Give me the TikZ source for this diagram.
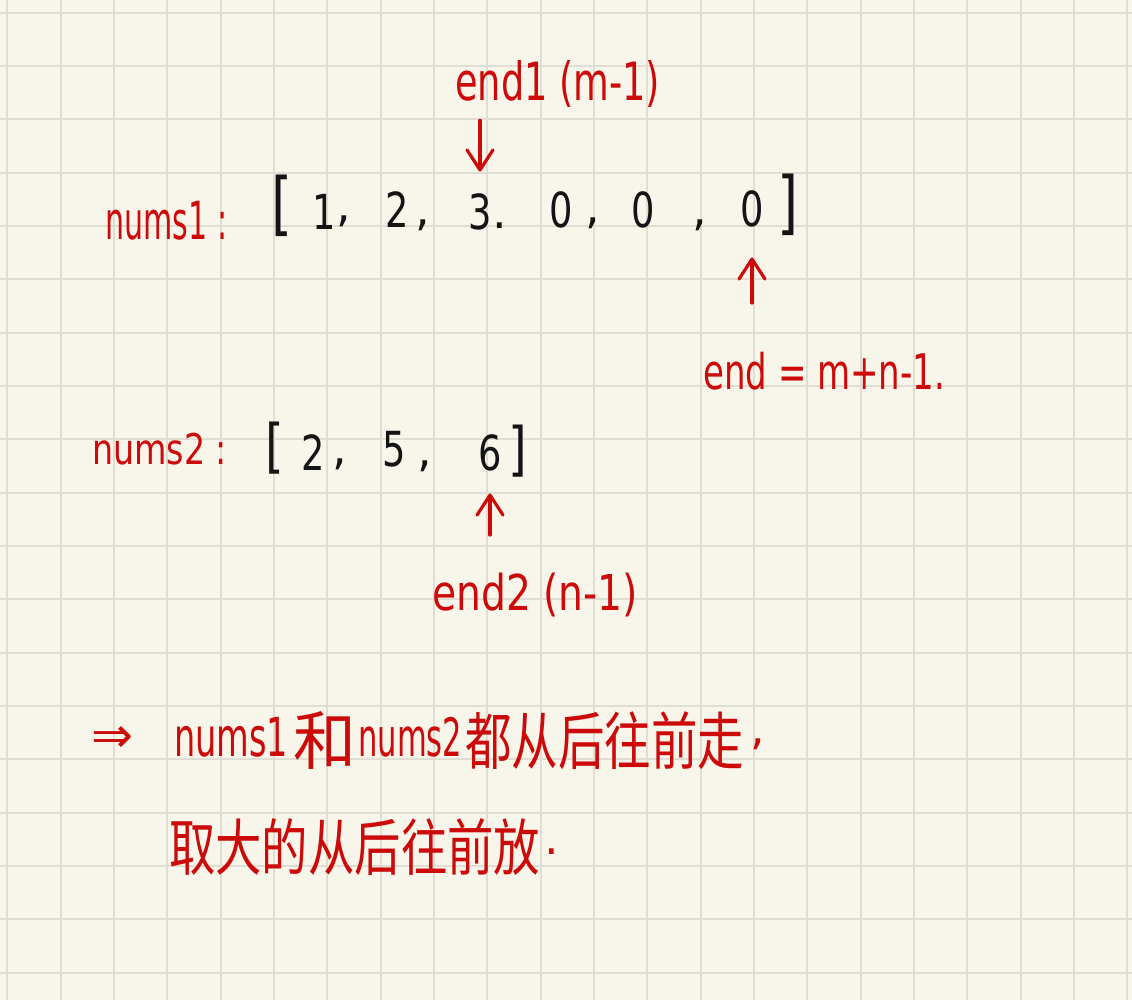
\documentclass[tikz,border=0pt]{standalone}
\usepackage{fontspec}
\usepackage{graphicx}
\usetikzlibrary{arrows.meta}
\newfontfamily\cjk{Noto Sans CJK SC}
\newfontfamily\dv{DejaVu Sans}
\newcommand{\dgt}[1]{\scalebox{0.8}[1.05]{#1}}
\newcommand{\tall}[1]{\scalebox{1}[1.28]{#1}}
\definecolor{paper}{HTML}{F8F6EB}
\definecolor{gridc}{HTML}{E0DDD2}
\definecolor{pen}{HTML}{CC0A0A}
\definecolor{ink}{HTML}{141414}
\begin{document}
\begin{tikzpicture}[x=1pt,y=-1pt,
  lbl/.style={inner sep=0pt, anchor=north west, text=pen, font=\cjk},
  lat/.style={inner sep=0pt, anchor=north west, text=pen, font=\dv},
  dig/.style={inner sep=0pt, text=ink, font=\dv\fontsize{46}{46}\selectfont},
  brk/.style={inner sep=0pt, text=ink, font=\dv\fontsize{54}{54}\selectfont},
  brks/.style={inner sep=0pt, text=ink, font=\dv\fontsize{48}{48}\selectfont},
  dot/.style={inner sep=0pt, text=pen, font=\dv\fontsize{46}{46}\selectfont},
  arr/.style={draw=pen, line width=3.2pt, line cap=round, -{Straight Barb[length=20pt,width=26pt,round]}}]
\fill[paper] (0,0) rectangle (1132,1000);
\useasboundingbox (0,0) rectangle (1132,1000);
\foreach \i in {0,...,21} \draw[gridc, line width=1.7pt] ({7.33+53.333*\i},0) -- ({7.33+53.333*\i},1000);
\foreach \j in {0,...,18} \draw[gridc, line width=1.7pt] (0,{12.67+53.333*\j}) -- (1132,{12.67+53.333*\j});

% red labels
\node[lat] (end1) at (455,60) {\resizebox*{205pt}{47pt}{end1 (m-1)}};
\node[lat] (nums1) at (105,201) {\resizebox*{122pt}{39pt}{nums1 :}};
\node[lat] (endeq) at (703,352) {\resizebox*{242pt}{38pt}{end = m+n-1.}};
\node[lat] (nums2) at (92,433) {\resizebox*{135pt}{32pt}{nums2 :}};
\node[lat] (end2) at (432,573) {\resizebox*{206pt}{44pt}{end2 (n-1)}};

% array 1
\node[brk] (b1l) at (282,206) {\tall{[}};
\node[dig] (n11) at (324,212) {\dgt{1}};
\node[dig] (c11) at (344,221) {,};
\node[dig] (n12) at (397,210) {\dgt{2}};
\node[dig] (c12) at (423,225) {,};
\node[dig] (n13) at (480,212) {\dgt{3}};
\node[dig] (c13) at (500,226) {.};
\node[dig] (n14) at (561,210) {\dgt{0}};
\node[dig] (c14) at (593,223) {,};
\node[dig] (n15) at (643,210) {\dgt{0}};
\node[dig] (c15) at (700,225) {,};
\node[dig] (n16) at (752,209) {\dgt{0}};
\node[brk] (b1r) at (788,205) {\tall{]}};

% array 2
\node[brks] (b2l) at (275,448) {\scalebox{1}[1.22]{[}};
\node[dig] (n21) at (313,453) {\dgt{2}};
\node[dig] (c21) at (340,464) {,};
\node[dig] (n22) at (394,449) {\dgt{5}};
\node[dig] (c22) at (425,466) {,};
\node[dig] (n23) at (490,453) {\dgt{6}};
\node[brks] (b2r) at (518,451) {\scalebox{1}[1.22]{]}};

% arrows
\draw[arr, shorten <=13pt, shorten >=22pt] (end1.south -| n13.north) -- (n13.north);
\draw[arr, shorten <=49pt, shorten >=30pt] (endeq.north -| n16.south) -- (n16.south);
\draw[arr, shorten <=38pt, shorten >=22pt] (end2.north -| n23.south) -- (n23.south);

% conclusion
\node[lat] (imp) at (91,726) {\resizebox*{42pt}{26pt}{⇒}};
\node[lat] (t1a) at (174,717) {\resizebox*{114pt}{40pt}{nums1}};
\node[lbl] (t1b) at (293,711) {\resizebox*{63pt}{58pt}{和}};
\node[lat] (t1c) at (358,717) {\resizebox*{104pt}{40pt}{nums2}};
\node[lbl] (t1d) at (465,711) {\resizebox*{279pt}{58pt}{都从后往前走}};
\node[dot] (t1e) at (758,744) {,};
\node[lbl] (t2a) at (169,818) {\resizebox*{371pt}{57pt}{取大的从后往前放}};
\node[dot] (t2b) at (552,852) {.};
\end{tikzpicture}
\end{document}
